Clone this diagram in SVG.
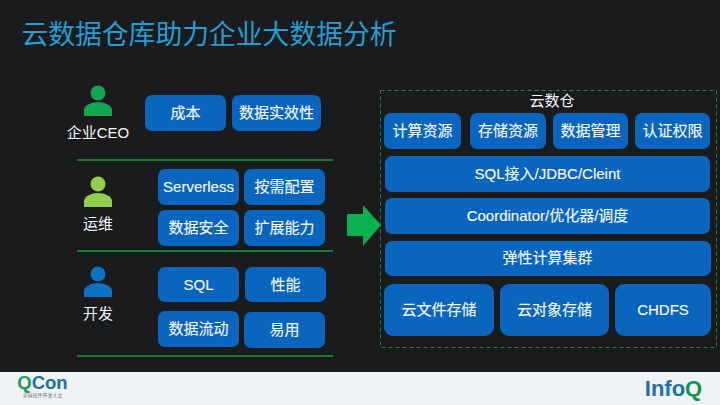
<svg xmlns="http://www.w3.org/2000/svg" width="720" height="405" viewBox="0 0 720 405">
<style>
text{font-family:"Liberation Sans","Noto Sans CJK SC",sans-serif;fill:#f4f7fb;text-anchor:middle}
.b{fill:#0a65be}
.n{font-size:15px;dominant-baseline:central;stroke:#f4f7fb;stroke-width:.15px}
.l{font-size:15px;dominant-baseline:central}
.sep{stroke:#1c7a2c;stroke-width:2;fill:none}
</style>
<defs>
<path id="body" d="M-14 0V-6C-14 -11 -6 -14 0 -14S14 -11 14 -6V0Z"/>
</defs>
<rect width="720" height="405" fill="#1a1b1d"/>
<rect y="372" width="720" height="33" fill="#f0f3f6"/>
<text x="209" y="44" style="font-size:26.800px;fill:#239ed4">云数据仓库助力企业大数据分析</text>
<g id="connectors">
<path class="sep" d="M77 160H333M77 251H333M77 356H333"/>
<path id="arrow" d="M347 214H363V205L381 225L363 246V236H347Z" fill="#0bb04f"/>
</g>
<g id="ceo"><circle cx="98" cy="93" r="7.500" fill="#12a650"/><use href="#body" x="98" y="116" fill="#12a650"/><text class="l" x="98" y="132">企业CEO</text></g>
<g id="ops"><circle cx="98" cy="184" r="7.500" fill="#8fcf50"/><use href="#body" x="98" y="207" fill="#8fcf50"/><text class="l" x="98" y="223">运维</text></g>
<g id="dev"><circle cx="98" cy="274" r="7.500" fill="#0b72c4"/><use href="#body" x="98" y="297" fill="#0b72c4"/><text class="l" x="98" y="313">开发</text></g>
<g id="n1"><rect class="b" x="145" y="95" width="81" height="36" rx="7"/><text class="n" x="185.500" y="112">成本</text></g>
<g id="n2"><rect class="b" x="232" y="95" width="89" height="36" rx="7"/><text class="n" x="276.500" y="112">数据实效性</text></g>
<g id="n3"><rect class="b" x="158" y="169" width="81" height="36" rx="7"/><text class="n" x="198.500" y="186">Serverless</text></g>
<g id="n4"><rect class="b" x="244" y="169" width="81" height="36" rx="7"/><text class="n" x="284.500" y="186">按需配置</text></g>
<g id="n5"><rect class="b" x="158" y="210" width="81" height="36" rx="7"/><text class="n" x="198.500" y="227">数据安全</text></g>
<g id="n6"><rect class="b" x="244" y="210" width="81" height="36" rx="7"/><text class="n" x="284.500" y="227">扩展能力</text></g>
<g id="n7"><rect class="b" x="158" y="267" width="81" height="35" rx="7"/><text class="n" x="198.500" y="284">SQL</text></g>
<g id="n8"><rect class="b" x="245" y="267" width="81" height="35" rx="7"/><text class="n" x="285.500" y="284">性能</text></g>
<g id="n9"><rect class="b" x="158" y="311" width="81" height="36" rx="7"/><text class="n" x="198.500" y="328">数据流动</text></g>
<g id="n10"><rect class="b" x="244" y="312" width="81" height="36" rx="7"/><text class="n" x="284.500" y="329">易用</text></g>
<g id="warehouse"><rect x="380.500" y="90.500" width="336" height="257" fill="none" stroke="#1c8a45" stroke-width="1" stroke-dasharray="4 3"/><text class="l" x="552" y="100">云数仓</text></g>
<g id="w1"><rect class="b" x="384" y="113" width="77" height="36" rx="7"/><text class="n" x="422.500" y="130">计算资源</text></g>
<g id="w2"><rect class="b" x="470" y="113" width="76" height="36" rx="7"/><text class="n" x="508" y="130">存储资源</text></g>
<g id="w3"><rect class="b" x="553" y="113" width="75" height="36" rx="7"/><text class="n" x="590.500" y="130">数据管理</text></g>
<g id="w4"><rect class="b" x="635" y="113" width="75" height="36" rx="7"/><text class="n" x="672.500" y="130">认证权限</text></g>
<g id="w5"><rect class="b" x="385" y="156" width="325" height="36" rx="7"/><text class="n" x="547.500" y="173">SQL接入/JDBC/Cleint</text></g>
<g id="w6"><rect class="b" x="385" y="198" width="325" height="36" rx="7"/><text class="n" x="547.500" y="215">Coordinator/优化器/调度</text></g>
<g id="w7"><rect class="b" x="385" y="241" width="326" height="35" rx="7"/><text class="n" x="547.500" y="257.500">弹性计算集群</text></g>
<g id="w8"><rect class="b" x="384" y="284" width="110" height="52" rx="9"/><text class="n" x="439" y="309">云文件存储</text></g>
<g id="w9"><rect class="b" x="500" y="284" width="109" height="52" rx="9"/><text class="n" x="554.500" y="309">云对象存储</text></g>
<g id="w10"><rect class="b" x="615" y="284" width="96" height="52" rx="9"/><text class="n" x="663" y="309">CHDFS</text></g>
<g id="footer">
<text x="42.500" y="389" style="font-size:18.500px;font-weight:700;fill:#1d6fa8"><tspan style="fill:#18a050">Q</tspan>Con</text>
<text x="42.500" y="397" style="font-size:5px;fill:#777">全球软件开发大会</text>
<text x="673.500" y="396" style="font-size:22px;font-weight:700;fill:#1d6fa8">Info<tspan style="fill:#14934a">Q</tspan></text>
</g>
</svg>
